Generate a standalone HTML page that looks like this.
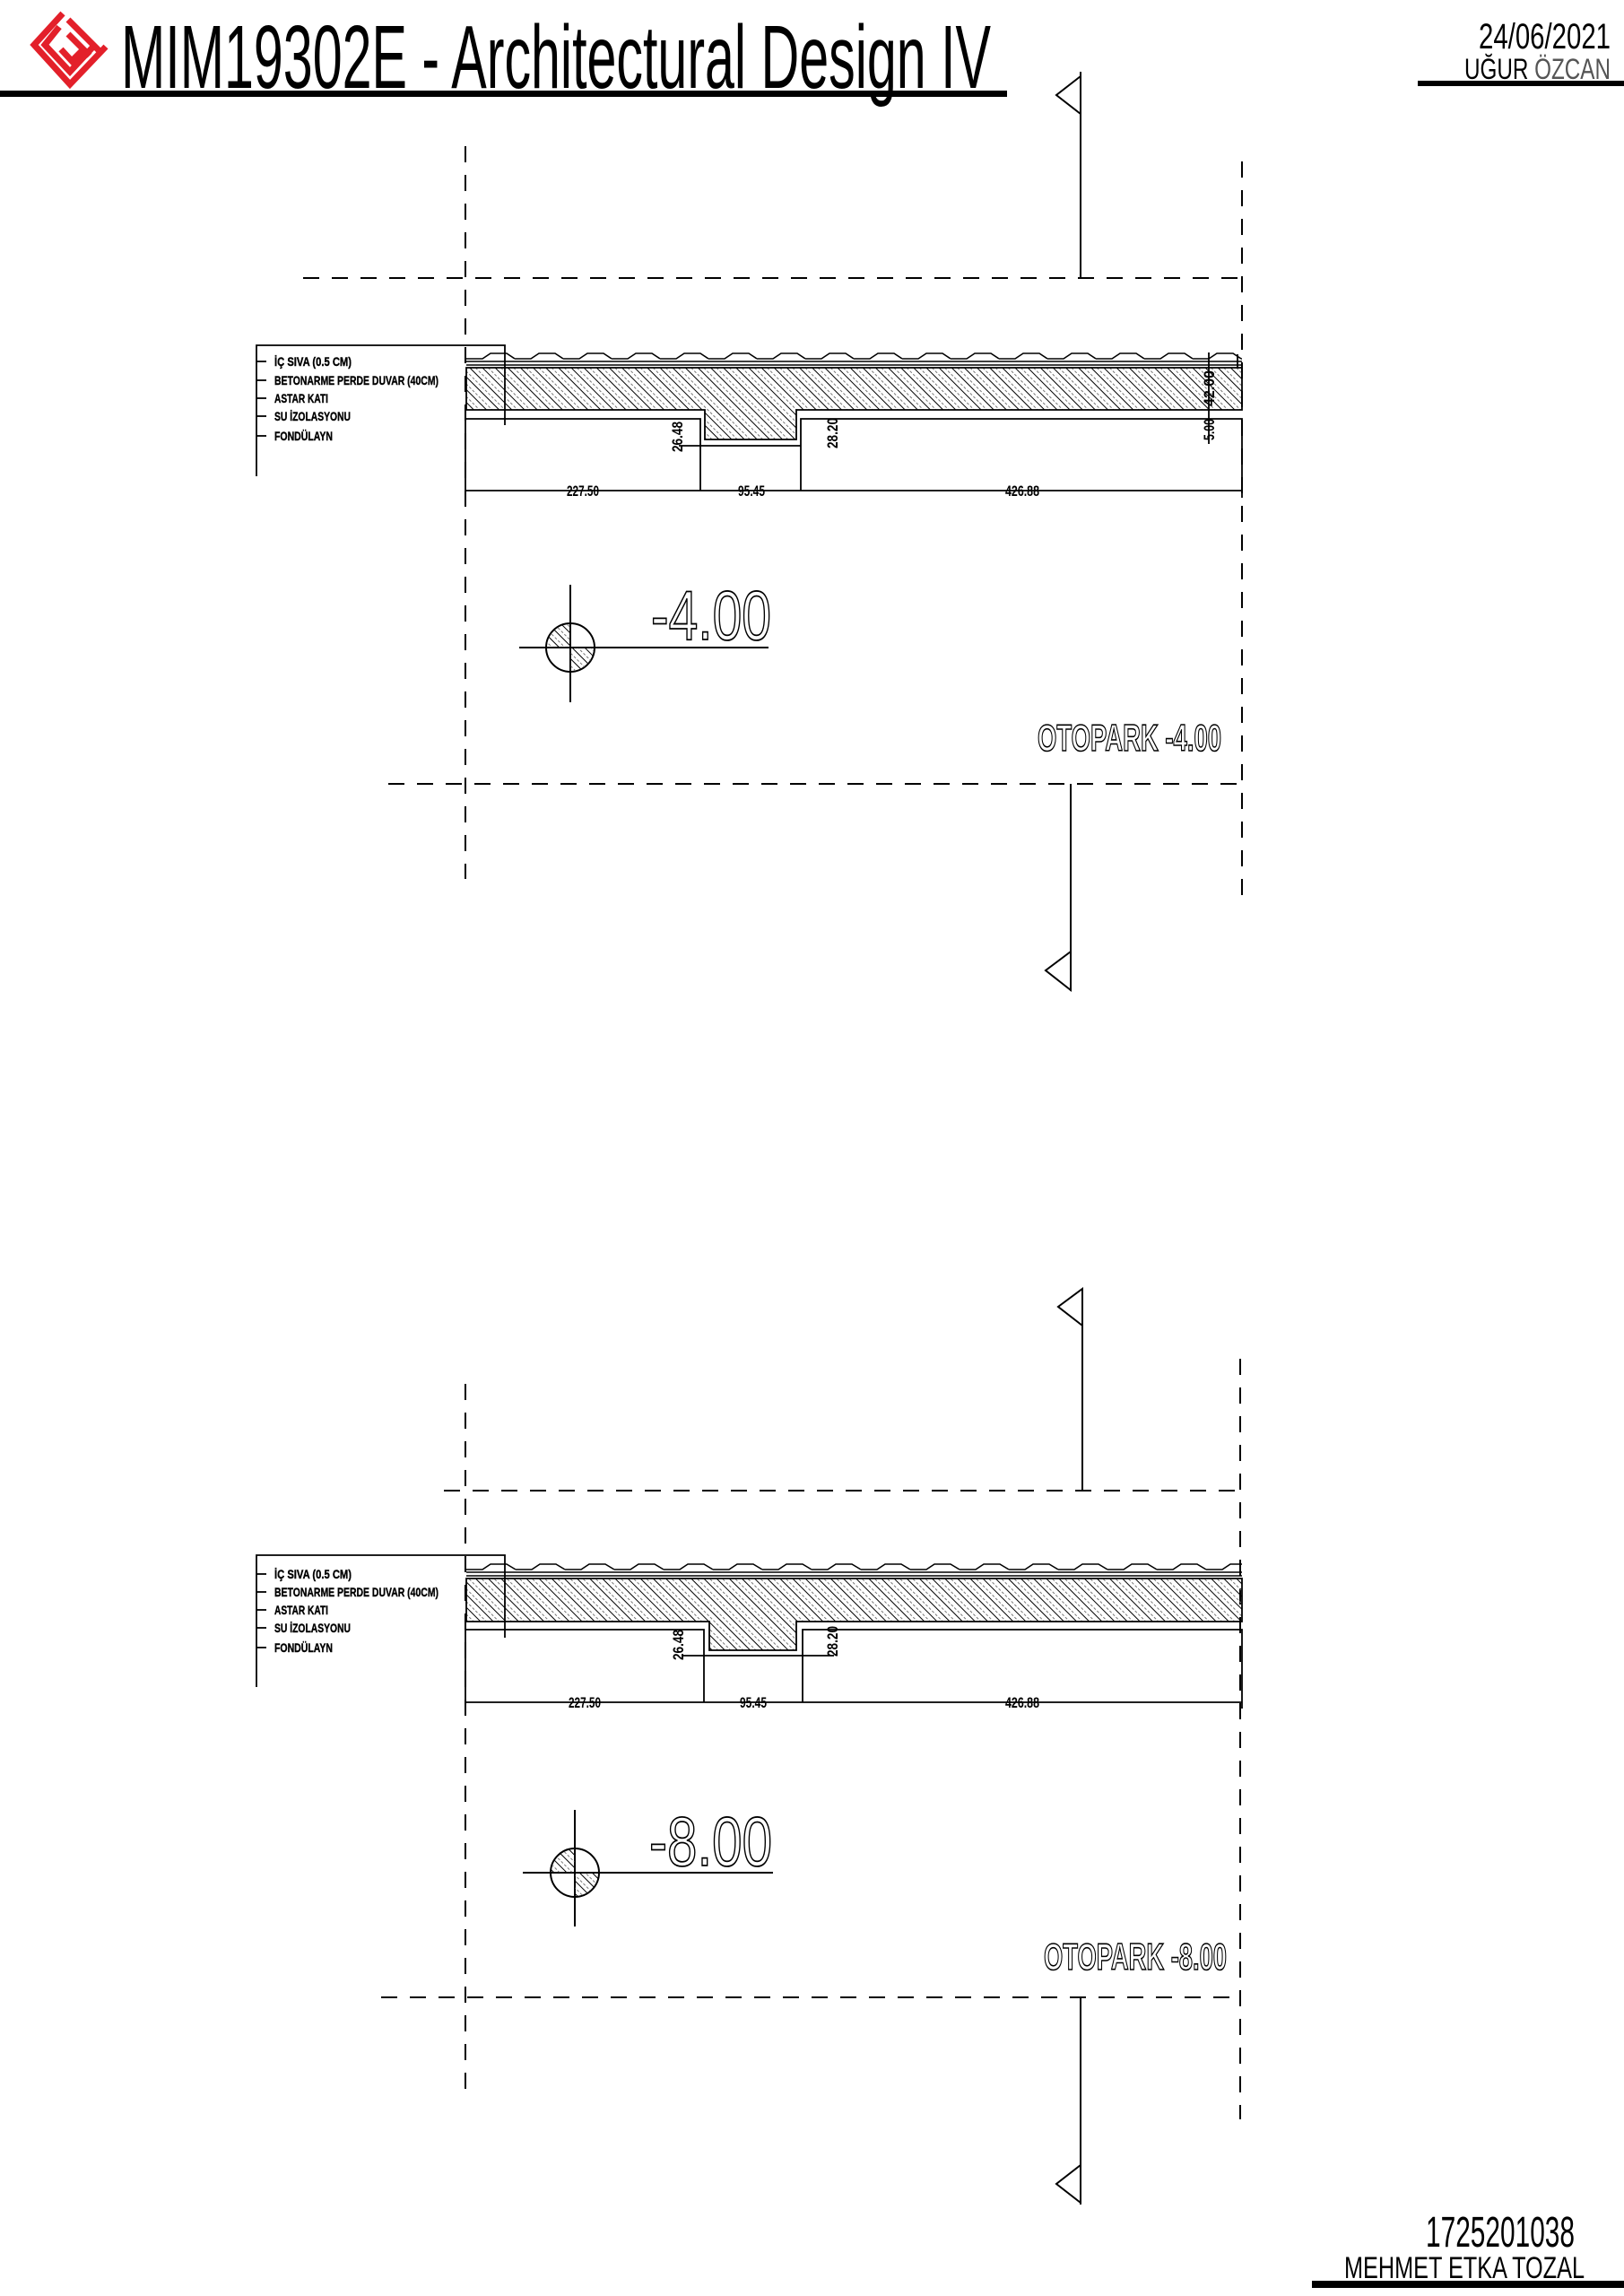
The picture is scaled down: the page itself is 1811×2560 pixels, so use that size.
<!DOCTYPE html>
<html><head><meta charset="utf-8"><style>
html,body{margin:0;padding:0;background:#fff;}
svg{display:block;}
text{font-family:"Liberation Sans Narrow","Liberation Sans",sans-serif;}
</style></head><body>
<svg width="1811" height="2560" viewBox="0 0 1811 2560" xmlns="http://www.w3.org/2000/svg">
<defs>
<pattern id="hatch" patternUnits="userSpaceOnUse" width="10" height="10" patternTransform="rotate(-45)">
<line x1="0" y1="0" x2="0" y2="10" stroke="#000" stroke-width="2"/>
<line x1="5" y1="0" x2="5" y2="10" stroke="#777" stroke-width="1" stroke-dasharray="3 2"/>
</pattern>
<pattern id="corr" patternUnits="userSpaceOnUse" x="520" y="392" width="54" height="12">
<path d="M0 8 L18 8 L27 2 L45 2 L54 8" fill="none" stroke="#000" stroke-width="1.6"/>
</pattern>
<pattern id="corr2" patternUnits="userSpaceOnUse" x="520" y="1742" width="55" height="12">
<path d="M0 8 L18 8 L27 2 L45 2 L55 8" fill="none" stroke="#000" stroke-width="1.6"/>
</pattern>
</defs>

<!-- Header -->
<g fill="none" stroke="#e3202a" stroke-width="7" stroke-linejoin="miter">
<path d="M70 15 L38 50 L78 94 L118 52"/>
<path d="M66 30 L50 50 L78 80 L104 52"/>
<path d="M76 22 L112 58"/>
<path d="M76 38 L100 62"/>
<path d="M68 55 L80 68 L92 56"/>
</g>
<text x="135" y="98" font-size="100" textLength="970" lengthAdjust="spacingAndGlyphs" fill="#000">MIM19302E - Architectural Design IV</text>
<rect x="0" y="101" width="1123" height="7" fill="#000"/>
<text x="1649" y="54" font-size="40" textLength="147" lengthAdjust="spacingAndGlyphs" fill="#000">24/06/2021</text>
<text x="1633" y="88" font-size="32" textLength="163" lengthAdjust="spacingAndGlyphs" fill="#000">UĞUR <tspan fill="#555">ÖZCAN</tspan></text>
<rect x="1581" y="90" width="230" height="6" fill="#000"/>

<text x="1590" y="2505" font-size="48" textLength="166" lengthAdjust="spacingAndGlyphs" fill="#000">1725201038</text>
<text x="1499" y="2540" font-size="34" textLength="268" lengthAdjust="spacingAndGlyphs" fill="#000">MEHMET ETKA TOZAL</text>
<rect x="1463" y="2543" width="348" height="8" fill="#000"/>

<!-- ===== Detail 1 ===== -->
<g stroke="#000" stroke-width="2" fill="none" stroke-dasharray="18 14">
<line x1="519" y1="163" x2="519" y2="980"/>
<line x1="1385" y1="180" x2="1385" y2="1012"/>
<line x1="338" y1="310" x2="1385" y2="310"/>
<line x1="433" y1="874" x2="1385" y2="874"/>
</g>
<g stroke="#000" stroke-width="2" fill="none">
<line x1="1205" y1="80" x2="1205" y2="310"/>
<polygon points="1205,85 1205,127 1178,106"/>
<line x1="1194" y1="874" x2="1194" y2="1105"/>
<polygon points="1194,1061 1194,1104 1166,1082"/>
</g>
<rect x="520" y="392" width="865" height="12" fill="url(#corr)"/>
<g stroke="#000" stroke-width="1.6" fill="none">
<line x1="520" y1="403" x2="1385" y2="403"/>
<line x1="520" y1="407" x2="1385" y2="407"/>
</g>
<path d="M520 410 H1385 V457 H888 V490 H786 V457 H520 Z" fill="url(#hatch)" stroke="#000" stroke-width="1.8"/>
<g stroke="#000" stroke-width="1.8" fill="none">
<polyline points="519,467 781,467 781,547"/>
<polyline points="757,497 893,497"/>
<polyline points="893,547 893,467 1385,467 1385,555"/>
<line x1="519" y1="467" x2="519" y2="557"/>
<line x1="519" y1="547" x2="1385" y2="547"/>
<line x1="1348" y1="393" x2="1348" y2="495"/>
<line x1="1380" y1="395" x2="1380" y2="410"/>
<polyline points="286,531 286,385 563,385 563,474"/>
<line x1="286" y1="403" x2="297" y2="403"/>
<line x1="286" y1="424" x2="297" y2="424"/>
<line x1="286" y1="444" x2="297" y2="444"/>
<line x1="286" y1="464" x2="297" y2="464"/>
<line x1="286" y1="486" x2="297" y2="486"/>
</g>
<g font-size="14" font-weight="bold" fill="#000" stroke="#000" stroke-width="0.4">
<text x="306" y="408" textLength="86" lengthAdjust="spacingAndGlyphs">İÇ SIVA (0.5 CM)</text>
<text x="306" y="429" textLength="183" lengthAdjust="spacingAndGlyphs">BETONARME PERDE DUVAR (40CM)</text>
<text x="306" y="449" textLength="60" lengthAdjust="spacingAndGlyphs">ASTAR KATI</text>
<text x="306" y="469" textLength="85" lengthAdjust="spacingAndGlyphs">SU İZOLASYONU</text>
<text x="306" y="491" textLength="65" lengthAdjust="spacingAndGlyphs">FONDÜLAYN</text>
</g>
<g font-size="17" font-weight="bold" fill="#000" text-anchor="middle">
<text x="650" y="553" textLength="36" lengthAdjust="spacingAndGlyphs">227.50</text>
<text x="838" y="553" textLength="30" lengthAdjust="spacingAndGlyphs">95.45</text>
<text x="1140" y="553" textLength="38" lengthAdjust="spacingAndGlyphs">426.88</text>
<text transform="translate(761,487) rotate(-90)" textLength="34" lengthAdjust="spacingAndGlyphs">26.48</text>
<text transform="translate(934,483) rotate(-90)" textLength="34" lengthAdjust="spacingAndGlyphs">28.20</text>
<text transform="translate(1354,433) rotate(-90)" textLength="40" lengthAdjust="spacingAndGlyphs">42.00</text>
<text transform="translate(1354,479) rotate(-90)" textLength="24" lengthAdjust="spacingAndGlyphs">5.00</text>
</g>
<g stroke="#000" stroke-width="2" fill="none">
<line x1="636" y1="652" x2="636" y2="783"/>
<line x1="579" y1="722" x2="857" y2="722"/>
<circle cx="636" cy="722" r="27"/>
<path d="M636 722 L636 695 A27 27 0 0 0 609 722 Z M636 722 L636 749 A27 27 0 0 0 663 722 Z" fill="url(#hatch)" stroke-width="1"/>
</g>
<text x="726" y="713" font-size="78" textLength="134" lengthAdjust="spacingAndGlyphs" fill="#fff" stroke="#000" stroke-width="1.8">-4.00</text>
<text x="1157" y="837" font-size="42" font-weight="bold" textLength="205" lengthAdjust="spacingAndGlyphs" fill="#fff" stroke="#000" stroke-width="1.6">OTOPARK -4.00</text>

<!-- ===== Detail 2 ===== -->
<g stroke="#000" stroke-width="2" fill="none" stroke-dasharray="18 14">
<line x1="519" y1="1543" x2="519" y2="2330"/>
<line x1="1383" y1="1515" x2="1383" y2="2363"/>
<line x1="495" y1="1662" x2="1388" y2="1662"/>
<line x1="425" y1="2227" x2="1385" y2="2227"/>
</g>
<g stroke="#000" stroke-width="2" fill="none">
<line x1="1207" y1="1437" x2="1207" y2="1662"/>
<polygon points="1207,1437 1207,1478 1180,1457"/>
<line x1="1205" y1="2227" x2="1205" y2="2458"/>
<polygon points="1205,2414 1205,2456 1178,2435"/>
</g>
<rect x="520" y="1742" width="865" height="12" fill="url(#corr2)"/>
<g stroke="#000" stroke-width="1.6" fill="none">
<line x1="520" y1="1753" x2="1385" y2="1753"/>
<line x1="520" y1="1757" x2="1385" y2="1757"/>
</g>
<path d="M520 1760 H1385 V1808 H888 V1840 H791 V1808 H520 Z" fill="url(#hatch)" stroke="#000" stroke-width="1.8"/>
<g stroke="#000" stroke-width="1.8" fill="none">
<polyline points="519,1817 785,1817 785,1898"/>
<polyline points="760,1846 930,1846"/>
<polyline points="895,1898 895,1817 1385,1817 1385,1905"/>
<line x1="519" y1="1817" x2="519" y2="1908"/>
<line x1="519" y1="1898" x2="1385" y2="1898"/>
<polyline points="286,1881 286,1734 563,1734 563,1826"/>
<line x1="286" y1="1755" x2="297" y2="1755"/>
<line x1="286" y1="1775" x2="297" y2="1775"/>
<line x1="286" y1="1795" x2="297" y2="1795"/>
<line x1="286" y1="1815" x2="297" y2="1815"/>
<line x1="286" y1="1837" x2="297" y2="1837"/>
</g>
<g font-size="14" font-weight="bold" fill="#000" stroke="#000" stroke-width="0.4">
<text x="306" y="1760" textLength="86" lengthAdjust="spacingAndGlyphs">İÇ SIVA (0.5 CM)</text>
<text x="306" y="1780" textLength="183" lengthAdjust="spacingAndGlyphs">BETONARME PERDE DUVAR (40CM)</text>
<text x="306" y="1800" textLength="60" lengthAdjust="spacingAndGlyphs">ASTAR KATI</text>
<text x="306" y="1820" textLength="85" lengthAdjust="spacingAndGlyphs">SU İZOLASYONU</text>
<text x="306" y="1842" textLength="65" lengthAdjust="spacingAndGlyphs">FONDÜLAYN</text>
</g>
<g font-size="17" font-weight="bold" fill="#000" text-anchor="middle">
<text x="652" y="1904" textLength="36" lengthAdjust="spacingAndGlyphs">227.50</text>
<text x="840" y="1904" textLength="30" lengthAdjust="spacingAndGlyphs">95.45</text>
<text x="1140" y="1904" textLength="38" lengthAdjust="spacingAndGlyphs">426.88</text>
<text transform="translate(762,1834) rotate(-90)" textLength="34" lengthAdjust="spacingAndGlyphs">26.48</text>
<text transform="translate(934,1830) rotate(-90)" textLength="34" lengthAdjust="spacingAndGlyphs">28.20</text>
</g>
<g stroke="#000" stroke-width="2" fill="none">
<line x1="641" y1="2018" x2="641" y2="2148"/>
<line x1="583" y1="2088" x2="862" y2="2088"/>
<circle cx="641" cy="2088" r="27"/>
<path d="M641 2088 L641 2061 A27 27 0 0 0 614 2088 Z M641 2088 L641 2115 A27 27 0 0 0 668 2088 Z" fill="url(#hatch)" stroke-width="1"/>
</g>
<text x="724" y="2080" font-size="78" textLength="137" lengthAdjust="spacingAndGlyphs" fill="#fff" stroke="#000" stroke-width="1.8">-8.00</text>
<text x="1164" y="2196" font-size="42" font-weight="bold" textLength="204" lengthAdjust="spacingAndGlyphs" fill="#fff" stroke="#000" stroke-width="1.6">OTOPARK -8.00</text>
</svg>
</body></html>
